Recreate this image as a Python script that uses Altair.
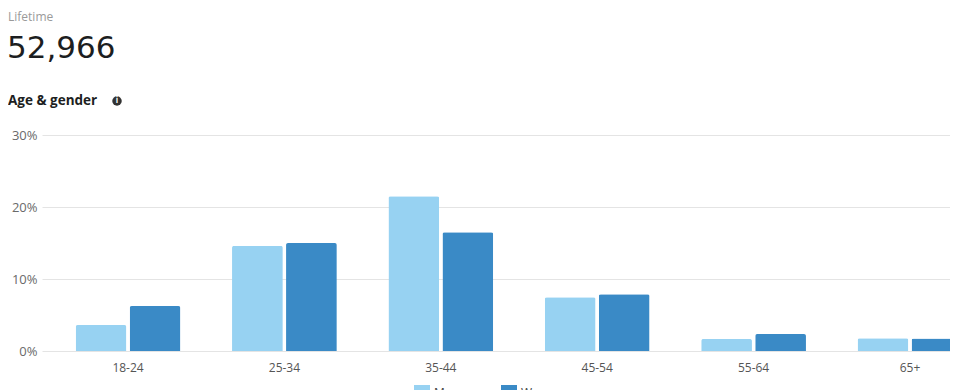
import altair as alt
import pandas as pd

ages = ["18-24", "25-34", "35-44", "45-54", "55-64", "65+"]
genders = ["Men", "Women"]
men = [3.6, 14.6, 21.5, 7.45, 1.67, 1.76]
women = [6.25, 15.0, 16.5, 7.87, 2.36, 1.72]
colors = ["#97D2F2", "#3A8AC6"]
y_ticks = [0, 10, 20, 30]

subtitle_text = "Lifetime"
total_text = "52,966"
section_text = "Age & gender"

rows = []
for a, m, w in zip(ages, men, women):
    rows.append({"age": a, "gender": "Men", "value": m})
    rows.append({"age": a, "gender": "Women", "value": w})
df = pd.DataFrame(rows)

FONT = "Open Sans"

bars = alt.Chart(df).mark_bar(
    cornerRadiusTopLeft=2, cornerRadiusTopRight=2
).encode(
    x=alt.X(
        "age:N", sort=ages,
        scale=alt.Scale(paddingInner=0.33, paddingOuter=0.164, align=0.656),
        axis=alt.Axis(title=None, domain=False, ticks=False, labelAngle=0,
                      labelPadding=11, labelFontSize=12, labelColor="#555",
                      labelFont=FONT, grid=False),
    ),
    xOffset=alt.XOffset("gender:N", sort=genders,
                        scale=alt.Scale(paddingInner=0.06)),
    y=alt.Y(
        "value:Q",
        scale=alt.Scale(domain=[0, 30]),
        axis=alt.Axis(title=None, values=y_ticks, labelExpr="datum.value + '%'",
                      domain=False, ticks=False, labelPadding=5,
                      labelFontSize=13, labelColor="#6a6a6a", labelFont=FONT,
                      grid=True, gridColor="#e4e4e4", gridWidth=1),
    ),
    color=alt.Color(
        "gender:N",
        scale=alt.Scale(domain=genders, range=colors),
        legend=alt.Legend(orient="none", legendX=372, legendY=250,
                          direction="horizontal", title=None,
                          symbolType="square", symbolSize=256,
                          symbolStrokeWidth=0, labelFontSize=12,
                          labelFont=FONT, labelColor="#444",
                          columnPadding=42),
    ),
)

t1 = alt.Chart(pd.DataFrame({"t": [subtitle_text]})).mark_text(
    align="left", baseline="middle", font=FONT, fontSize=12, color="#9a9a9a"
).encode(text="t:N", x=alt.value(-34), y=alt.value(-118))

t2 = alt.Chart(pd.DataFrame({"t": [total_text]})).mark_text(
    align="left", baseline="alphabetic", font="DejaVu Sans", fontSize=31,
    color="#1c1e21"
).encode(text="t:N", x=alt.value(-35), y=alt.value(-77))

t3 = alt.Chart(pd.DataFrame({"t": [section_text]})).mark_text(
    align="left", baseline="middle", font=FONT, fontSize=13.5,
    fontWeight="bold", color="#1c1e21"
).encode(text="t:N", x=alt.value(-34), y=alt.value(-34))

icon = alt.Chart(pd.DataFrame({"t": ["i"]})).mark_point(
    filled=True, shape="circle", size=90, color="#333", opacity=1
).encode(x=alt.value(75), y=alt.value(-34))

icon_i = alt.Chart(pd.DataFrame({"t": ["i"]})).mark_text(
    align="center", baseline="middle", font=FONT, fontSize=8,
    fontWeight="bold", color="#ffffff"
).encode(text="t:N", x=alt.value(75), y=alt.value(-34))

chart = alt.layer(bars, t1, t2, t3, icon, icon_i).properties(
    width=938, height=216,
    autosize=alt.AutoSizeParams(type="none"),
    padding={"left": 34, "top": 127, "right": -30, "bottom": 39},
).configure(background="#ffffff").configure_view(stroke=None)

chart.save("out.html", embed_options={"renderer": "svg", "actions": False})
